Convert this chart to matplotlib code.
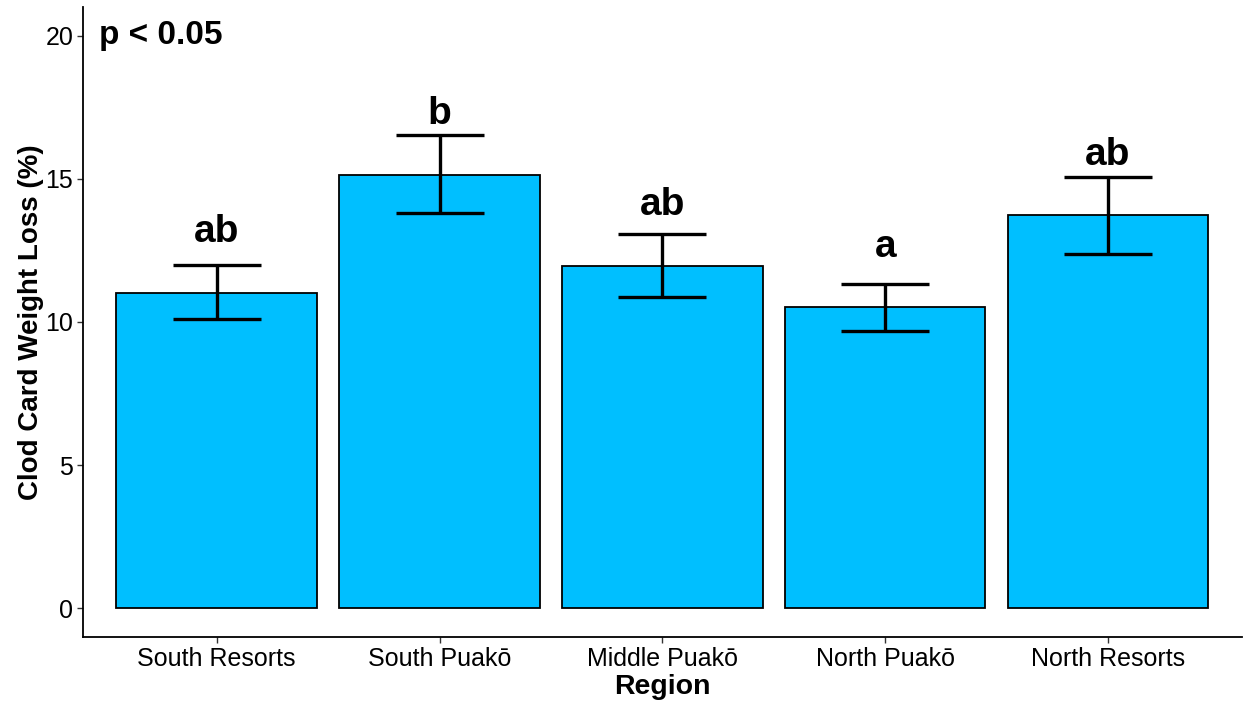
import matplotlib
matplotlib.use("Agg")
import matplotlib.pyplot as plt

regions = ["South Resorts", "South Puakō", "Middle Puakō", "North Puakō", "North Resorts"]
means = [11.03, 15.15, 11.97, 10.51, 13.72]
upper = [12.00, 16.54, 13.09, 11.34, 15.08]
lower = [10.09, 13.79, 10.89, 9.67, 12.36]
letters = ["ab", "b", "ab", "a", "ab"]

plt.rcParams['font.family'] = ['Liberation Sans', 'DejaVu Sans']

fig = plt.figure(figsize=(12.43, 7.04), dpi=100)
ax = fig.add_axes([83/1243, 1 - 637/704, 1 - 83/1243 - 0.001, (637 - 7)/704])

x = list(range(1, len(regions) + 1))
ax.bar(x, means, width=0.9, color="#00BFFF", edgecolor="black", linewidth=1.3, zorder=2)
yerr = [[m - l for m, l in zip(means, lower)], [u - m for u, m in zip(upper, means)]]
ax.errorbar(x, means, yerr=yerr, fmt="none", ecolor="black", elinewidth=2.4,
            capsize=32, capthick=2.4, zorder=3)
for xi, m, lab in zip(x, means, letters):
    ax.text(xi, m + 1.75, lab, ha="center", va="baseline", fontsize=28, fontweight="bold")

ax.text(0.47, 20, "p < 0.05", ha="left", va="center", fontsize=24, fontweight="bold")

ax.set_xlim(0.4, 5.6)
ax.set_ylim(-1, 21)
ax.set_xticks(x)
ax.set_xticklabels(regions, fontsize=18)
ax.set_yticks([0, 5, 10, 15, 20])
ax.set_yticklabels(["0", "5", "10", "15", "20"], fontsize=18)
ax.tick_params(axis="both", length=4, width=1, color="#333333", pad=3)
ax.set_xlabel("Region", fontsize=20.5, fontweight="bold", labelpad=2)
ax.set_ylabel("Clod Card Weight Loss (%)", fontsize=20, fontweight="bold", labelpad=1)
for s in ["top", "right"]:
    ax.spines[s].set_visible(False)
for s in ["left", "bottom"]:
    ax.spines[s].set_linewidth(1.3)

fig.savefig("out.png", dpi=100)
